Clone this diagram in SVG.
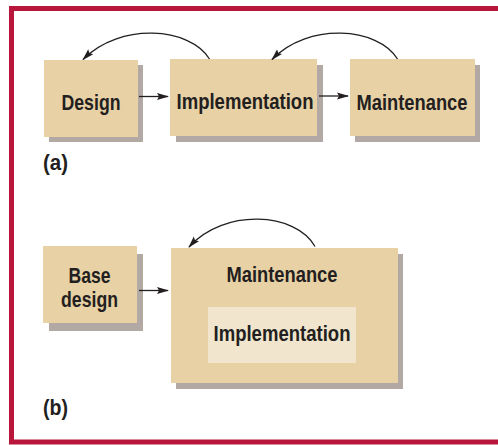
<svg xmlns="http://www.w3.org/2000/svg" width="498" height="445" viewBox="0 0 498 445">
  <defs>
    <marker id="arrow" viewBox="0 0 12 8" refX="11" refY="4" markerWidth="12" markerHeight="8" markerUnits="userSpaceOnUse" orient="auto">
      <path d="M0,0.5 L12,4 L0,7.5 L2,4 Z" fill="#231f20"/>
    </marker>
    <style>
      .box { fill: #e8d1a5; }
      .inner { fill: #f1e6cd; }
      .shadow { fill: #b2a8a4; }
      .lbl { font-family: "Liberation Sans", Arial, sans-serif; font-weight: bold; font-size: 21.5px; fill: #231f20; text-anchor: middle; }
      .tag { font-family: "Liberation Sans", Arial, sans-serif; font-weight: bold; font-size: 21.5px; fill: #231f20; }
      .conn { fill: none; stroke: #231f20; stroke-width: 1.3; marker-end: url(#arrow); }
    </style>
  </defs>

  <rect width="498" height="445" fill="#ffffff"/>
  <!-- outer frame -->
  <rect x="11.5" y="8.5" width="520" height="433.5" fill="none" stroke="#b8163a" stroke-width="5"/>

  <!-- (a) sequential process -->
  <g id="design">
    <rect class="shadow" x="49" y="65" width="94" height="77"/>
    <rect class="box" x="44" y="60" width="94" height="77"/>
    <text class="lbl" x="91" y="110" textLength="59" lengthAdjust="spacingAndGlyphs">Design</text>
  </g>
  <g id="implementation">
    <rect class="shadow" x="176" y="65" width="147" height="77"/>
    <rect class="box" x="170" y="59" width="147" height="77"/>
    <text class="lbl" x="245" y="109" textLength="137" lengthAdjust="spacingAndGlyphs">Implementation</text>
  </g>
  <g id="maintenance">
    <rect class="shadow" x="355" y="65" width="125" height="77"/>
    <rect class="box" x="350" y="59" width="125" height="77"/>
    <text class="lbl" x="412" y="110" textLength="111" lengthAdjust="spacingAndGlyphs">Maintenance</text>
  </g>
  <text id="label-a" class="tag" x="43" y="170" textLength="25" lengthAdjust="spacingAndGlyphs">(a)</text>

  <!-- (b) maintenance-centred process -->
  <g id="base-design">
    <rect class="shadow" x="49" y="254" width="94" height="77"/>
    <rect class="box" x="43" y="246" width="94" height="77"/>
    <text class="lbl" x="89.5" y="283" textLength="42" lengthAdjust="spacingAndGlyphs">Base</text>
    <text class="lbl" x="89.5" y="307" textLength="57" lengthAdjust="spacingAndGlyphs">design</text>
  </g>
  <g id="maintenance-b">
    <rect class="shadow" x="176" y="254" width="227" height="135"/>
    <rect class="box" x="171" y="248" width="227" height="135"/>
    <text class="lbl" x="282" y="282" textLength="111" lengthAdjust="spacingAndGlyphs">Maintenance</text>
    <g id="implementation-b">
      <rect class="inner" x="208" y="307" width="148" height="56"/>
      <text class="lbl" x="282" y="341" textLength="137" lengthAdjust="spacingAndGlyphs">Implementation</text>
    </g>
  </g>
  <text id="label-b" class="tag" x="43" y="415" textLength="25" lengthAdjust="spacingAndGlyphs">(b)</text>

  <g id="connectors">
    <line class="conn" x1="139" y1="96.5" x2="168" y2="96.5"/>
    <line class="conn" x1="319" y1="96" x2="348" y2="96"/>
    <path class="conn" d="M209.5,59 C190,27 120,22 83,59.5"/>
    <path class="conn" d="M397.5,59 C378,27 308,22 272,59.5"/>
    <line class="conn" x1="139" y1="290.5" x2="168" y2="290.5"/>
    <path class="conn" d="M315,246.5 C296,212 224,208 189,247"/>
  </g>
</svg>
